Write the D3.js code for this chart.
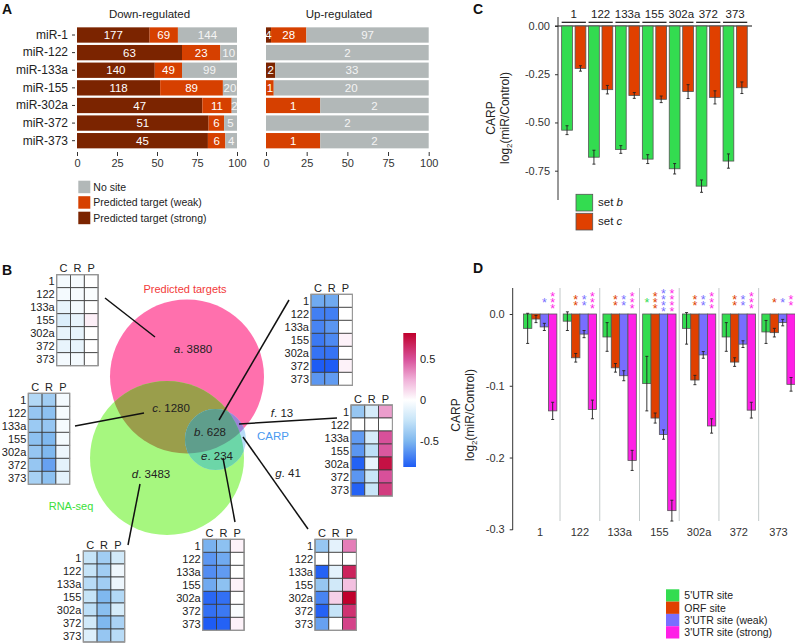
<!DOCTYPE html>
<html>
<head>
<meta charset="utf-8">
<script src="https://cdn.jsdelivr.net/npm/d3@7"></script>
<style>
body { margin: 0; background: #fff; }
svg { font-family: "Liberation Sans", Arial, sans-serif; }
</style>
</head>
<body>
<svg id="fig" width="795" height="644"></svg>
<script>
// ---- data ----
const mirs = ["miR-1", "miR-122", "miR-133a", "miR-155", "miR-302a", "miR-372", "miR-373"];
const groups = ["1", "122", "133a", "155", "302a", "372", "373"];

// panel A : counts of targets
const downStrong = [177, 63, 140, 118, 47, 51, 45];
const downWeak   = [69, 23, 49, 89, 11, 6, 6];
const downNone   = [144, 10, 99, 20, 2, 5, 4];
const upStrong   = [4, 0, 2, 0, 0, 0, 0];
const upWeak     = [28, 0, 0, 1, 1, 0, 1];
const upNone     = [97, 2, 33, 20, 2, 2, 2];
const legendA = ["No site", "Predicted target (weak)", "Predicted target (strong)"];

// panel C : CARP of set b / set c
const setB    = [-0.54, -0.68, -0.64, -0.69, -0.74, -0.83, -0.70];
const setBErr = [0.023, 0.036, 0.020, 0.023, 0.027, 0.032, 0.037];
const setC    = [-0.22, -0.33, -0.36, -0.38, -0.34, -0.37, -0.32];
const setCErr = [0.014, 0.022, 0.015, 0.017, 0.036, 0.034, 0.030];

// panel D : CARP by site type
const seriesD  = ["5'UTR site", "ORF site", "3'UTR site (weak)", "3'UTR site (strong)"];
const utr5     = [-0.020, -0.010, -0.032, -0.097, -0.020, -0.032, -0.025];
const utr5Err  = [0.021, 0.013, 0.020, 0.038, 0.022, 0.020, 0.016];
const orf      = [-0.007, -0.061, -0.075, -0.145, -0.092, -0.067, -0.026];
const orfErr   = [0.005, 0.006, 0.006, 0.007, 0.0065, 0.006, 0.006];
const utr3w    = [-0.018, -0.028, -0.086, -0.168, -0.057, -0.042, -0.012];
const utr3wErr = [0.005, 0.005, 0.007, 0.0065, 0.0047, 0.0047, 0.0045];
const utr3s    = [-0.135, -0.133, -0.204, -0.274, -0.156, -0.134, -0.098];
const utr3sErr = [0.012, 0.013, 0.014, 0.0145, 0.010, 0.011, 0.0095];
const stars5   = [0, 0, 0, 1, 0, 0, 0];
const starsOrf = [0, 2, 2, 3, 2, 2, 1];
const stars3w  = [1, 2, 2, 4, 2, 2, 1];
const stars3s  = [3, 3, 3, 4, 3, 3, 2];

// panel B : venn counts
const vennIds    = ["a", "b", "c", "d", "e", "f", "g"];
const vennCounts = [3880, 628, 1280, 3483, 234, 13, 41];

// heatmaps, rows = groups, cols = C R P
const heatA = [[-0.05,-0.04,0],[-0.05,-0.04,-0.02],[-0.1,-0.05,0],[-0.16,-0.1,0.05],[-0.1,-0.1,0],[-0.1,-0.1,0],[-0.05,-0.05,0]];
const heatB = [[-0.55,-0.55,0],[-0.7,-0.7,0],[-0.68,-0.62,0],[-0.72,-0.66,0.04],[-0.74,-0.74,0],[-0.82,-0.82,0.04],[-0.62,-0.6,0]];
const heatC = [[-0.32,-0.38,-0.05],[-0.42,-0.45,-0.04],[-0.4,-0.42,-0.04],[-0.45,-0.5,-0.05],[-0.42,-0.5,-0.08],[-0.42,-0.58,-0.12],[-0.36,-0.45,-0.12]];
const heatD = [[-0.25,-0.38,-0.2],[-0.25,-0.38,-0.07],[-0.3,-0.38,-0.08],[-0.25,-0.5,-0.32],[-0.28,-0.46,-0.18],[-0.2,-0.5,-0.35],[-0.15,-0.42,-0.3]];
const heatE = [[-0.52,-0.45,0.04],[-0.62,-0.55,0],[-0.65,-0.6,0],[-0.55,-0.45,0.04],[-0.78,-0.75,0],[-0.75,-0.72,-0.02],[-0.85,-0.8,0.04]];
const heatF = [[-0.42,-0.18,0.3],[null,null,null],[-0.6,-0.18,0.5],[-0.62,-0.28,0.48],[-0.8,-0.1,0.75],[-0.62,-0.24,0.5],[-0.8,-0.24,0.58]];
const heatG = [[-0.42,-0.12,0.38],[null,null,null],[-0.8,-0.12,0.68],[-0.42,-0.2,0.2],[-0.68,0.15,0.82],[-0.8,-0.25,0.62],[-0.58,0,0.55]];
const heatCols = ["C", "R", "P"];
const barTicks = [0.5, 0, -0.5];

const svg = d3.select("#fig");
const defs = svg.append("defs");

function panelLabel(t, x, y) {
  svg.append("text").attr("x", x).attr("y", y).text(t)
    .attr("font-size", 14).attr("font-weight", "bold").attr("fill", "#111");
}
panelLabel("A", 2, 14);
panelLabel("B", 2, 275);
panelLabel("C", 473, 14);
panelLabel("D", 473, 273);

// ================= panel A =================
const colA = ["#7b2400", "#d64000", "#b2b8b8"]; // strong, weak, none
const yA = d3.scaleBand(mirs, [26.2, 149.5]).paddingInner(0.13).paddingOuter(0.065);

function drawStack(x, strong, weak, none, title, titleX) {
  const g = svg.append("g");
  const segs = mirs.map((m, i) => {
    const tot = strong[i] + weak[i] + none[i];
    let acc = 0;
    return [strong[i], weak[i], none[i]].map((v, j) => {
      const s = { m: m, v: v, j: j, x0: acc / tot * 100, x1: (acc + v) / tot * 100 };
      acc += v;
      return s;
    });
  }).flat().filter(d => d.v > 0);

  g.selectAll("rect").data(segs).join("rect")
    .attr("x", d => x(d.x0))
    .attr("width", d => x(d.x1) - x(d.x0))
    .attr("y", d => yA(d.m))
    .attr("height", yA.bandwidth())
    .attr("fill", d => colA[d.j]);

  g.selectAll("text.val").data(segs).join("text")
    .attr("class", "val")
    .attr("x", d => x((d.x0 + d.x1) / 2))
    .attr("y", d => yA(d.m) + yA.bandwidth() / 2 + 4.2)
    .attr("text-anchor", "middle")
    .attr("font-size", 11.5)
    .attr("fill", d => d.j == 2 ? "#f4f4f4" : "#fff")
    .text(d => d.v);

  const ax = g.append("g").attr("transform", "translate(0,152)")
    .call(d3.axisBottom(x).tickValues([0, 25, 50, 75, 100]).tickSize(4).tickPadding(3));
  ax.select(".domain").remove();
  ax.selectAll("line").attr("stroke", "#333");
  ax.selectAll("text").attr("font-size", 11).attr("fill", "#333").attr("font-family", null);

  g.append("text").attr("x", titleX).attr("y", 17.5).attr("text-anchor", "middle")
    .attr("font-size", 11.5).attr("fill", "#222").text(title);
}

const xDown = d3.scaleLinear([0, 100], [77, 237]);
const xUp = d3.scaleLinear([0, 100], [266, 428.7]);
drawStack(xDown, downStrong, downWeak, downNone, "Down-regulated", 149.5);
drawStack(xUp, upStrong, upWeak, upNone, "Up-regulated", 339);

const yAx = svg.append("g").attr("transform", "translate(75,0)")
  .call(d3.axisLeft(yA).tickSize(3).tickPadding(4));
yAx.select(".domain").remove();
yAx.selectAll("line").attr("stroke", "#333");
yAx.selectAll("text").attr("font-size", 12).attr("fill", "#222").attr("font-family", null);

// legend A
const legA = svg.append("g");
legendA.forEach((t, i) => {
  const y0 = 180.7 + i * 15.5;
  legA.append("rect").attr("x", 78.3).attr("y", y0).attr("width", 12).attr("height", 12.5)
    .attr("fill", colA[2 - i]);
  legA.append("text").attr("x", 93.3).attr("y", y0 + 10).attr("font-size", 10.5)
    .attr("fill", "#222").text(t);
});

// ================= panel C =================
const colC = ["#33dc50", "#e04000"];
const yC = d3.scaleLinear([-0.75, 0], [170.7, 26]);
const xC = d3.scaleBand(groups, [560.3, 748.6]).paddingInner(0.1).paddingOuter(0.05);
const subC = d3.scaleBand(["b", "c"], [0, xC.bandwidth()]).paddingInner(0.2);
const gC = svg.append("g");

gC.append("line").attr("x1", 555).attr("x2", 752).attr("y1", yC(0)).attr("y2", yC(0))
  .attr("stroke", "#111").attr("stroke-width", 1);

const dataC = groups.map((g, i) => [
  { g: g, s: "b", v: setB[i], e: setBErr[i], c: colC[0] },
  { g: g, s: "c", v: setC[i], e: setCErr[i], c: colC[1] }
]).flat();

gC.selectAll("rect.bar").data(dataC).join("rect")
  .attr("class", "bar")
  .attr("x", d => xC(d.g) + subC(d.s))
  .attr("width", subC.bandwidth())
  .attr("y", yC(0))
  .attr("height", d => yC(d.v) - yC(0))
  .attr("fill", d => d.c)
  .attr("stroke", "#555").attr("stroke-width", 0.8);

function errBars(g, data, xf, w, yf) {
  const eg = g.append("g").attr("stroke", "#222").attr("stroke-width", 0.9);
  data.forEach(d => {
    const cx = xf(d);
    eg.append("line").attr("x1", cx).attr("x2", cx).attr("y1", yf(d.v - d.e)).attr("y2", yf(d.v + d.e));
    eg.append("line").attr("x1", cx - w).attr("x2", cx + w).attr("y1", yf(d.v - d.e)).attr("y2", yf(d.v - d.e));
    eg.append("line").attr("x1", cx - w).attr("x2", cx + w).attr("y1", yf(d.v + d.e)).attr("y2", yf(d.v + d.e));
  });
}
errBars(gC, dataC, d => xC(d.g) + subC(d.s) + subC.bandwidth() / 2, 1.5, yC);

// facet strips
groups.forEach(g => {
  gC.append("text").attr("x", xC(g) + xC.bandwidth() / 2).attr("y", 18.3)
    .attr("text-anchor", "middle").attr("font-size", 11.5).attr("fill", "#222").text(g);
  gC.append("line").attr("x1", xC(g)).attr("x2", xC(g) + xC.bandwidth())
    .attr("y1", 22.3).attr("y2", 22.3).attr("stroke", "#111").attr("stroke-width", 1.2);
});

const axC = gC.append("g").attr("transform", "translate(558,0)")
  .call(d3.axisLeft(yC).tickValues([0, -0.25, -0.5, -0.75]).tickSize(3).tickPadding(5)
    .tickFormat(d => d.toFixed(2)));
axC.select(".domain").remove();
axC.selectAll("line").attr("stroke", "#333");
axC.selectAll("text").attr("font-size", 11).attr("fill", "#333").attr("font-family", null);
gC.append("line").attr("x1", 558).attr("x2", 558).attr("y1", 17).attr("y2", 200)
  .attr("stroke", "#333").attr("stroke-width", 1);

function yLabel(cx1, cx2, cy) {
  svg.append("text").attr("transform", `translate(${cx1},${cy}) rotate(-90)`)
    .attr("text-anchor", "middle").attr("font-size", 12).attr("fill", "#222").text("CARP");
  const t2 = svg.append("text").attr("transform", `translate(${cx2},${cy}) rotate(-90)`)
    .attr("text-anchor", "middle").attr("font-size", 12).attr("fill", "#222");
  t2.append("tspan").text("log");
  t2.append("tspan").attr("font-size", 8).attr("dy", 3).text("2");
  t2.append("tspan").attr("dy", -3).text("(miR/Control)");
}
yLabel(495, 509, 118);

// legend C
["set ", "set "].forEach((t, i) => {
  const y0 = 194.3 + i * 19;
  svg.append("rect").attr("x", 576).attr("y", y0).attr("width", 16.7).attr("height", 16.7)
    .attr("fill", colC[i]).attr("stroke", "#555").attr("stroke-width", 0.8);
  const tx = svg.append("text").attr("x", 598).attr("y", y0 + 12).attr("font-size", 11.5).attr("fill", "#222");
  tx.append("tspan").text(t);
  tx.append("tspan").attr("font-style", "italic").text(i == 0 ? "b" : "c");
});

// ================= panel D =================
const colD = ["#33dc50", "#e04000", "#786eff", "#ff1fe6"];
const yD = d3.scaleLinear([-0.3, 0], [529.3, 314]);
const xD = d3.scaleBand(groups, [520.3, 798.4]).paddingInner(0.16).paddingOuter(0.08);
const subD = d3.scaleBand([0, 1, 2, 3], [0, xD.bandwidth()]);
const gD = svg.append("g");
const valsD = [utr5, orf, utr3w, utr3s];
const errsD = [utr5Err, orfErr, utr3wErr, utr3sErr];
const starsD = [stars5, starsOrf, stars3w, stars3s];

// separators
groups.slice(0, -1).forEach(g => {
  const sx = xD(g) + xD.bandwidth() + (xD.step() - xD.bandwidth()) / 2;
  gD.append("line").attr("x1", sx).attr("x2", sx).attr("y1", 288).attr("y2", 521)
    .attr("stroke", "#c3caca").attr("stroke-width", 1);
});

const dataD = groups.map((g, i) => valsD.map((arr, k) => ({
  g: g, k: k, v: arr[i], e: errsD[k][i], n: starsD[k][i]
}))).flat();

gD.selectAll("rect.bar").data(dataD).join("rect")
  .attr("class", "bar")
  .attr("x", d => xD(d.g) + subD(d.k))
  .attr("width", subD.bandwidth())
  .attr("y", yD(0))
  .attr("height", d => yD(d.v) - yD(0))
  .attr("fill", d => colD[d.k])
  .attr("stroke", "#555").attr("stroke-width", 0.8);

errBars(gD, dataD, d => xD(d.g) + subD(d.k) + subD.bandwidth() / 2, 1.5, yD);

// significance stars, one stacked text per bar
dataD.filter(d => d.n > 0).forEach(d => {
  const cx = xD(d.g) + subD(d.k) + subD.bandwidth() / 2;
  const top = 299.5 - (d.n - 1) / 2 * 6;
  const t = gD.append("text").attr("x", cx).attr("y", top + 7.4).attr("text-anchor", "middle")
    .attr("font-size", 12.5).attr("fill", colD[d.k]);
  for (let s = 0; s < d.n; s++) {
    t.append("tspan").attr("x", cx).attr("dy", s == 0 ? 0 : 6).text("*");
  }
});

const axD = gD.append("g").attr("transform", "translate(512.7,0)")
  .call(d3.axisLeft(yD).tickValues([0, -0.1, -0.2, -0.3]).tickSize(3).tickPadding(5)
    .tickFormat(d => d.toFixed(1)));
axD.select(".domain").remove();
axD.selectAll("line").attr("stroke", "#333");
axD.selectAll("text").attr("font-size", 11).attr("fill", "#333").attr("font-family", null);
gD.append("line").attr("x1", 512.7).attr("x2", 512.7).attr("y1", 288).attr("y2", 530)
  .attr("stroke", "#333").attr("stroke-width", 1);

groups.forEach(g => {
  gD.append("text").attr("x", xD(g) + xD.bandwidth() / 2).attr("y", 536)
    .attr("text-anchor", "middle").attr("font-size", 11).attr("fill", "#333").text(g);
});

yLabel(460, 474, 415);

// legend D
seriesD.forEach((t, i) => {
  const y0 = 589.3 + i * 12.3;
  svg.append("rect").attr("x", 666).attr("y", y0).attr("width", 13.3).attr("height", 12.3)
    .attr("fill", colD[i]);
  svg.append("text").attr("x", 684.3).attr("y", y0 + 10).attr("font-size", 10.5)
    .attr("fill", "#222").text(t);
});

// ================= panel B : venn =================
const pred = { cx: 187, cy: 376.5, r: 77 };
const rna = { cx: 167, cy: 458, r: 77 };
const carp = { cx: 215.5, cy: 439.5, r: 30.5 };

defs.append("clipPath").attr("id", "clipPred").append("circle")
  .attr("cx", pred.cx).attr("cy", pred.cy).attr("r", pred.r);
defs.append("clipPath").attr("id", "clipRna").append("circle")
  .attr("cx", rna.cx).attr("cy", rna.cy).attr("r", rna.r);

const gB = svg.append("g");
function circ(parent, c, fill) {
  return parent.append("circle").attr("cx", c.cx).attr("cy", c.cy).attr("r", c.r).attr("fill", fill);
}
circ(gB, pred, "#ff70ad");
circ(gB, rna, "#a6f77f");
circ(gB.append("g").attr("clip-path", "url(#clipPred)"), rna, "#9a9e4b");
circ(gB, carp, "#b8dcf8");
circ(gB.append("g").attr("clip-path", "url(#clipPred)"), carp, "#9c82d6");
circ(gB.append("g").attr("clip-path", "url(#clipRna)"), carp, "#6cd6a8");
circ(gB.append("g").attr("clip-path", "url(#clipPred)").append("g").attr("clip-path", "url(#clipRna)"), carp, "#5f9e8c");

// set names
gB.append("text").attr("x", 185).attr("y", 293).attr("text-anchor", "middle")
  .attr("font-size", 11).attr("fill", "#f23a3a").text("Predicted targets");
gB.append("text").attr("x", 71).attr("y", 510).attr("text-anchor", "middle")
  .attr("font-size", 11).attr("fill", "#3ae03a").text("RNA-seq");
gB.append("text").attr("x", 257).attr("y", 440).attr("font-size", 11.5)
  .attr("fill", "#4a9af0").text("CARP");

// region counts
const vennPos = [[193, 353], [210, 435.5], [171, 412], [151, 478], [217, 460], [282, 416.5], [288, 476.5]];
vennIds.forEach((id, i) => {
  const t = gB.append("text").attr("x", vennPos[i][0]).attr("y", vennPos[i][1])
    .attr("text-anchor", "middle").attr("font-size", 11.5).attr("fill", "#222");
  t.append("tspan").attr("font-style", "italic").text(id);
  t.append("tspan").text(". " + vennCounts[i]);
});

// leader lines
const leaders = [
  [105, 298, 155, 337], [75, 426, 144, 413], [219, 420, 289, 300], [239, 424, 337, 418],
  [223, 458, 235, 522], [243, 437, 308, 529], [140, 484, 128, 545]
];
leaders.forEach(l => {
  gB.append("line").attr("x1", l[0]).attr("y1", l[1]).attr("x2", l[2]).attr("y2", l[3])
    .attr("stroke", "#111").attr("stroke-width", 1.5);
});

// heatmaps
const heatColor = d3.scaleLinear()
  .domain([-0.82, -0.5, -0.25, 0, 0.25, 0.5, 0.82])
  .range(["#1e5cf5", "#7fb8ef", "#c6e4f8", "#ffffff", "#f0b0d8", "#d8509a", "#c0002c"])
  .clamp(true);

function drawHeat(data, x0, y0) {
  const hx = d3.scaleBand(heatCols, [x0, x0 + 41.4]);
  const hy = d3.scaleBand(groups, [y0, y0 + 91]);
  const g = svg.append("g");
  const cells = data.map((row, i) => row.map((v, j) => ({ r: groups[i], c: heatCols[j], v: v }))).flat();
  g.selectAll("rect").data(cells).join("rect")
    .attr("x", d => hx(d.c)).attr("y", d => hy(d.r))
    .attr("width", hx.bandwidth()).attr("height", hy.bandwidth())
    .attr("fill", d => d.v == null ? "#fff" : heatColor(d.v))
    .attr("stroke", "#3a3a3a").attr("stroke-width", 0.8);
  g.append("rect").attr("x", x0).attr("y", y0).attr("width", 41.4).attr("height", 91)
    .attr("fill", "none").attr("stroke", "#999").attr("stroke-width", 1.2);
  g.selectAll("text.col").data(heatCols).join("text").attr("class", "col")
    .attr("x", d => hx(d) + hx.bandwidth() / 2).attr("y", y0 - 2.5)
    .attr("text-anchor", "middle").attr("font-size", 11).attr("fill", "#222").text(d => d);
  g.selectAll("text.row").data(groups).join("text").attr("class", "row")
    .attr("x", x0 - 2).attr("y", d => hy(d) + hy.bandwidth() / 2 + 4)
    .attr("text-anchor", "end").attr("font-size", 11).attr("fill", "#222").text(d => d);
}
drawHeat(heatA, 56.7, 274.7);
drawHeat(heatC, 28.3, 393.3);
drawHeat(heatB, 311, 294.3);
drawHeat(heatF, 351, 405);
drawHeat(heatD, 83.3, 551);
drawHeat(heatE, 202.7, 539.3);
drawHeat(heatG, 315, 539.3);

// colour bar
const cbY = d3.scaleLinear([-0.82, 0.82], [467, 333]);
const grad = defs.append("linearGradient").attr("id", "cbGrad")
  .attr("x1", 0).attr("x2", 0).attr("y1", 1).attr("y2", 0);
heatColor.domain().forEach(v => {
  grad.append("stop").attr("offset", (v + 0.82) / 1.64).attr("stop-color", heatColor(v));
});
svg.append("rect").attr("x", 403.3).attr("y", cbY(0.82)).attr("width", 12.7)
  .attr("height", cbY(-0.82) - cbY(0.82)).attr("fill", "url(#cbGrad)");
barTicks.forEach(v => {
  svg.append("text").attr("x", 420).attr("y", cbY(v) + 4).attr("font-size", 11)
    .attr("fill", "#222").text(v == 0 ? "0" : v.toFixed(1));
});
</script>
</body>
</html>
